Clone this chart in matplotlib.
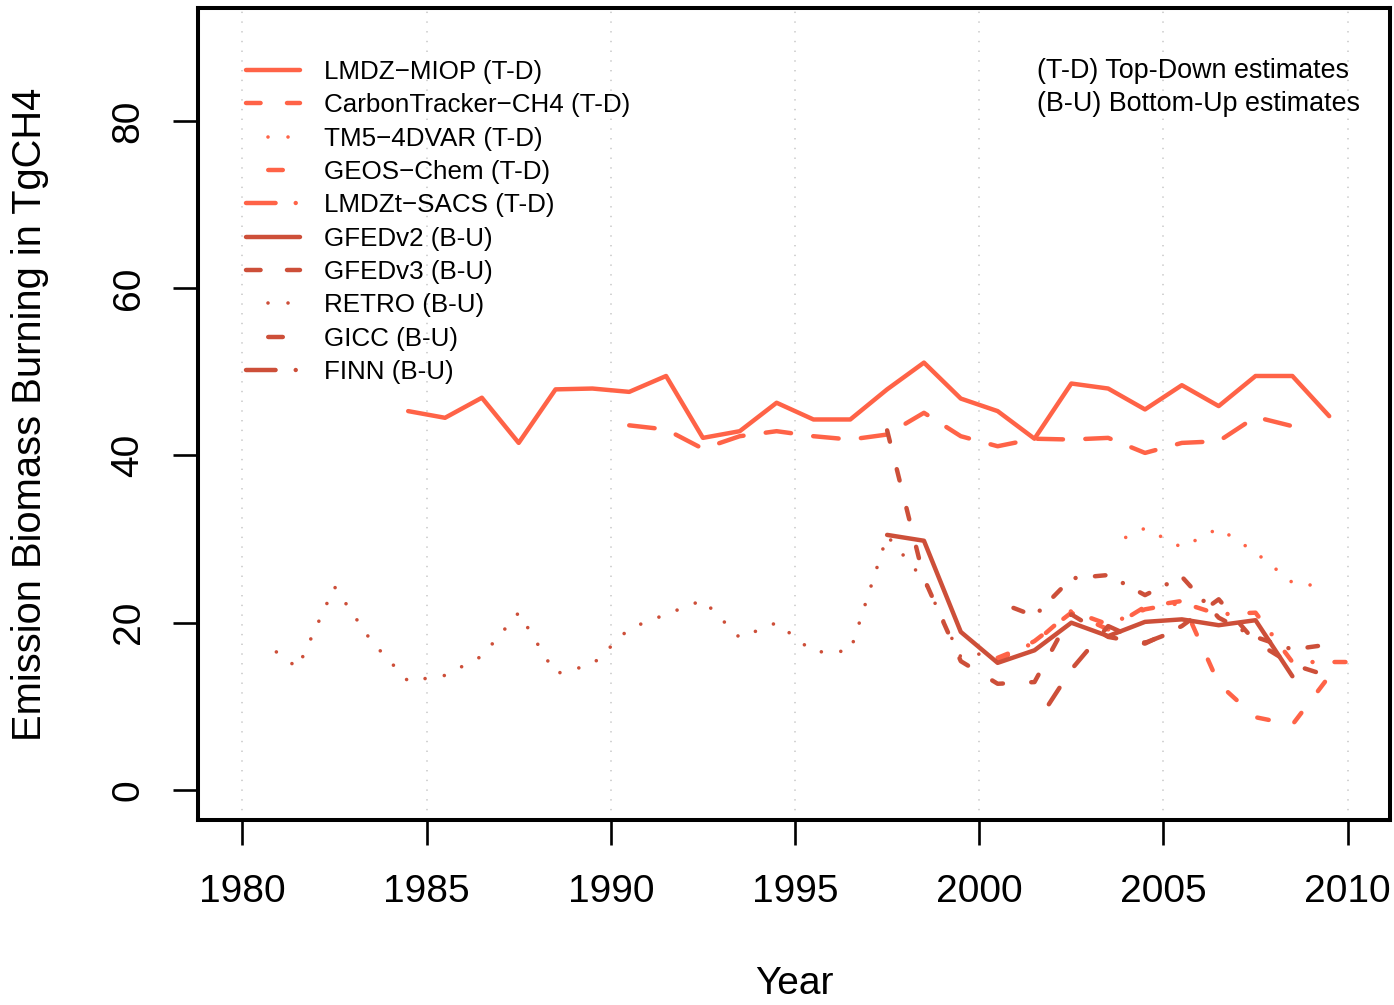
import numpy as np
import matplotlib
matplotlib.use("Agg")
import matplotlib.pyplot as plt
from matplotlib.lines import Line2D

plt.rcParams['font.family'] = ['Liberation Sans', 'DejaVu Sans']
plt.rcParams['lines.scale_dashes'] = False

light = '#FF6347'   # tomato  -> top-down inversions
dark = '#CD4F39'    # tomato3 -> bottom-up inventories

# annual emissions (TgCH4), plotted at mid-year
miop_years = np.arange(1984, 2010) + 0.5
miop = [45.3, 44.5, 46.9, 41.5, 47.9, 48.0, 47.6, 49.5, 42.1, 42.9, 46.3, 44.3, 44.3,
        47.9, 51.1, 46.8, 45.3, 42.0, 48.6, 48.0, 45.5, 48.4, 45.9, 49.5, 49.5, 44.7]
ct_years = np.arange(1990, 2009) + 0.5
ct = [43.6, 43.1, 40.8, 42.3, 42.9, 42.3, 41.9, 42.5, 45.1, 42.3, 41.1, 42.0, 41.9,
      42.1, 40.3, 41.5, 41.7, 44.6, 43.5]
tm5_years = np.arange(2003, 2010) + 0.5
tm5 = [29.2, 31.3, 29.0, 31.3, 28.4, 24.8, 24.2]
geos_years = np.arange(2000, 2010) + 0.5
geos = [15.5, 17.8, 21.2, 19.2, 21.9, 22.6, 12.7, 8.7, 7.8, 13.6]
sacs_years = np.arange(2000, 2011) + 0.5
sacs = [15.8, 17.6, 21.4, 19.8, 21.6, 22.4, 21.0, 21.2, 15.3, 15.3, 15.3]
gfed2_years = np.arange(1997, 2009) + 0.5
gfed2 = [30.5, 29.8, 18.9, 15.2, 16.7, 20.0, 18.4, 20.1, 20.4, 19.7, 20.3, 13.6]
gfed3_years = np.arange(1997, 2010) + 0.5
gfed3 = [43.0, 25.3, 15.4, 12.7, 12.9, 21.0, 18.3, 17.5, 19.6, 22.8, 17.7, 15.0, 13.6]
retro_years = np.arange(1980, 2001) + 0.5
retro = [17.9, 14.6, 24.3, 17.8, 13.0, 13.7, 16.0, 21.2, 13.9, 15.0, 19.3, 21.0, 22.7,
         18.2, 20.0, 16.5, 16.6, 30.4, 25.1, 15.9, 16.6]
gicc_years = np.arange(2001, 2006) + 0.5
gicc = [7.6, 14.4, 19.6, 17.6, 19.3]
finn_years = np.arange(2000, 2010) + 0.5
finn = [22.5, 20.8, 25.3, 25.7, 23.3, 25.5, 20.6, 18.3, 16.8, 17.4]

labels = ['LMDZ\u2212MIOP (T-D)', 'CarbonTracker\u2212CH4 (T-D)', 'TM5\u22124DVAR (T-D)',
          'GEOS\u2212Chem (T-D)', 'LMDZt\u2212SACS (T-D)', 'GFEDv2 (B-U)', 'GFEDv3 (B-U)',
          'RETRO (B-U)', 'GICC (B-U)', 'FINN (B-U)']

lw = 3.2
lw_dot = 2.6
dashed = (0, (18.4, 16.1))
dotted = (0.02, (0.01, 14.0))
dotdash = (0, (7.9, 15.8, 0.01, 15.8))

fig = plt.figure(figsize=(13.94, 10.05), dpi=100)
ax = fig.add_axes([198 / 1394, 185 / 1005, 1192 / 1394, 812 / 1005])

series = [
    (miop_years, miop, light, lw, '-'),
    (ct_years, ct, light, lw, dashed),
    (tm5_years, tm5, light, lw_dot, dotted),
    (geos_years, geos, light, lw, (0, (8.4, 19.7))),
    (sacs_years, sacs, light, lw, dotdash),
    (gfed2_years, gfed2, dark, lw, '-'),
    (gfed3_years, gfed3, dark, lw, (0, (8.4, 20.4))),
    (retro_years, retro, dark, lw_dot, dotted),
    (gicc_years, gicc, dark, lw, (14.1, (14.1, 19.0))),
    (finn_years, finn, dark, lw, (23.4, (7.6, 14.0, 0.01, 14.0))),
]
for x, y, c, w, ls in series:
    ax.plot(x, y, color=c, lw=w, linestyle=ls, dash_capstyle='round',
            solid_capstyle='round', solid_joinstyle='round', dash_joinstyle='round')

# legend keys
leg_styles = [
    '-', (0, (10.5, 19.0)), (38.58, (0.01, 14.4, 0.01, 40)), (34.5, (10.5, 40)),
    (0, (21.3, 14.5, 0.01, 30)),
    '-', (0, (10.5, 19.0)), (38.58, (0.01, 14.4, 0.01, 40)), (34.5, (10.5, 40)),
    (0, (21.3, 14.5, 0.01, 30)),
]
leg_colors = [light] * 5 + [dark] * 5
leg_widths = [lw, lw, lw_dot, lw, lw, lw, lw, lw_dot, lw, lw]
handles = [Line2D([], [], color=c, lw=w, linestyle=s, dash_capstyle='round',
                  solid_capstyle='round')
           for c, w, s in zip(leg_colors, leg_widths, leg_styles)]
ax.legend(handles, labels, loc='upper left', bbox_to_anchor=(0.0403, 0.936),
          frameon=False, fontsize=18.7, handlelength=2.08, handletextpad=0.92,
          labelspacing=0.36, borderpad=0, borderaxespad=0)

ax.text(0.704, 0.922, '(T-D) Top-Down estimates', transform=ax.transAxes,
        fontsize=19.4, va='center', ha='left')
ax.text(0.704, 0.882, '(B-U) Bottom-Up estimates', transform=ax.transAxes,
        fontsize=19.4, va='center', ha='left')

ax.set_xlim(1978.795, 2011.15)
ax.set_ylim(-3.59, 93.5)
ax.set_xticks([1980, 1985, 1990, 1995, 2000, 2005, 2010])
ax.set_yticks([0, 20, 40, 60, 80])
ax.grid(axis='x', color='#CFCFCF', linestyle=(0, (1.0, 6.0)), linewidth=1.3)
ax.set_axisbelow(True)

for sp in ax.spines.values():
    sp.set_linewidth(2.9)
ax.tick_params(axis='both', length=18, width=1.9, labelsize=28, color='black')
ax.tick_params(axis='x', pad=21)
ax.tick_params(axis='y', pad=19, labelrotation=90)
for lab in ax.get_yticklabels():
    lab.set_va('center')

ax.set_xlabel('Year', fontsize=28, labelpad=40)
ax.set_ylabel('Emission Biomass Burning in TgCH4', fontsize=28.7, labelpad=44)

fig.savefig('out.png', dpi=100)
